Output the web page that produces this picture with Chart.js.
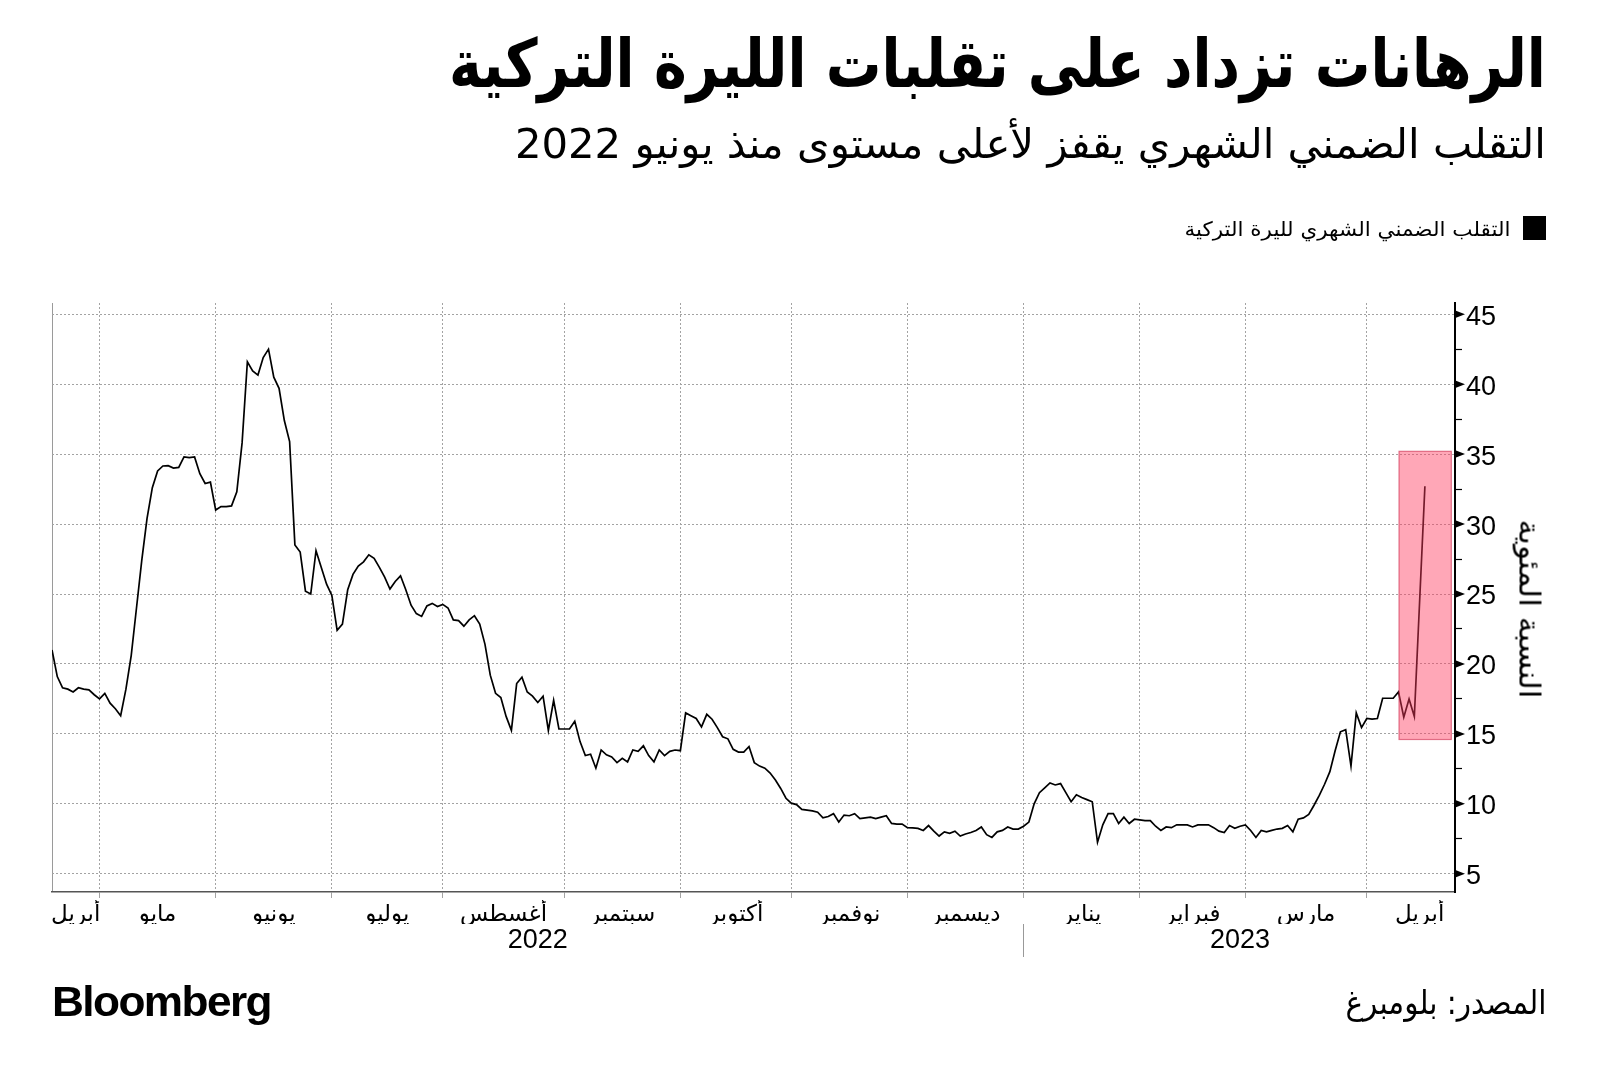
<!DOCTYPE html>
<html lang="ar">
<head>
<meta charset="utf-8">
<title>الرهانات تزداد على تقلبات الليرة التركية</title>
<script src="https://cdn.jsdelivr.net/npm/chart.js@4.4.1/dist/chart.umd.min.js"></script>
<style>
    html, body { margin: 0; padding: 0; background: #fff; }
    body { width: 1600px; height: 1085px; position: relative; overflow: hidden; }
    #chart { position: absolute; left: 0; top: 0; }
    .txt { position: absolute; white-space: nowrap; line-height: 1; color: #000; }
    .ar { direction: rtl; font-family: "DejaVu Sans", sans-serif; transform-origin: right top; }
    #title { right: 54px; top: 31px; font-size: 67px; font-weight: bold; }
    #subtitle { right: 54px; top: 124px; font-size: 41px; }
    #legendText { right: 90px; top: 219px; font-size: 20px; }
    #legendBox { position: absolute; left: 1523px; top: 216px; width: 23px; height: 24px; background: #000; }
    #source { right: 54px; top: 986px; font-size: 33px; }
    #logo { left: 52px; top: 981px; font-family: "Liberation Sans", Arial, sans-serif; font-size: 42px; font-weight: bold; letter-spacing: -1.5px; transform-origin: left top; }
    #yTitle { left: 1529px; top: 609px; font-size: 29px; transform-origin: center center; }
</style>
</head>
<body>
<canvas id="chart" width="1600" height="1085"></canvas>
<div id="title" class="txt ar">الرهانات تزداد على تقلبات الليرة التركية</div>
<div id="subtitle" class="txt ar">التقلب الضمني الشهري يقفز لأعلى مستوى منذ يونيو 2022</div>
<div id="legendBox"></div>
<div id="legendText" class="txt ar">التقلب الضمني الشهري لليرة التركية</div>
<div id="yTitle" class="txt ar">النسبة المئوية</div>
<div id="source" class="txt ar">المصدر: بلومبرغ</div>
<div id="logo" class="txt">Bloomberg</div>

<script>
// Month labels (April 2022 -> April 2023), x is the trading-day index
const monthNames = ['أبريل', 'مايو', 'يونيو', 'يوليو', 'أغسطس', 'سبتمبر', 'أكتوبر',
    'نوفمبر', 'ديسمبر', 'يناير', 'فبراير', 'مارس', 'أبريل'];
// first trading day of May 2022 ... April 2023
const monthStarts = [9, 31, 53, 74, 97, 119, 140, 162, 184, 206, 226, 249];
// where each month name sits (middle of the month)
const monthLabelPos = [4.5, 20, 42, 63.5, 85.5, 108, 129.5, 151, 173, 195, 216, 237.5, 259];

const yearNames = ['2022', '2023'];
const yearLabelPos = [92, 225];
const yearBreak = 184;

const yTicks = [5, 10, 15, 20, 25, 30, 35, 40, 45];

// One-month implied volatility of the lira, %
const volatility = [
    21.0, 19.1, 18.3, 18.2, 18.0, 18.3, 18.2, 18.15, 17.8, 17.5,
    17.9, 17.2, 16.8, 16.3, 18.2, 20.6, 24.0, 27.4, 30.4, 32.6,
    33.8, 34.15, 34.17, 34.0, 34.05, 34.8, 34.75, 34.8, 33.6, 32.9,
    33.0, 31.0, 31.25, 31.25, 31.3, 32.3, 35.8, 41.6, 40.95, 40.65,
    41.9, 42.5, 40.5, 39.7, 37.4, 35.9, 28.5, 28.0, 25.2, 25.0,
    28.1, 26.9, 25.7, 24.9, 22.4, 22.85, 25.3, 26.4, 27.0, 27.3,
    27.8, 27.55, 26.9, 26.2, 25.35, 25.9, 26.3, 25.3, 24.2, 23.6,
    23.4, 24.15, 24.33, 24.1, 24.26, 24.0, 23.15, 23.1, 22.7, 23.15,
    23.45, 22.85, 21.4, 19.2, 17.9, 17.6, 16.25, 15.25, 18.6, 19.05,
    18.0, 17.7, 17.25, 17.7, 15.25, 17.4, 15.35, 15.35, 15.35, 15.9,
    14.45, 13.45, 13.55, 12.55, 13.85, 13.5, 13.35, 12.95, 13.25, 13.0,
    13.85, 13.75, 14.15, 13.45, 13.0, 13.85, 13.45, 13.75, 13.85, 13.8,
    16.5, 16.3, 16.1, 15.5, 16.4, 16.05, 15.45, 14.8, 14.65, 13.9,
    13.7, 13.7, 14.1, 12.95, 12.7, 12.55, 12.2, 11.7, 11.1, 10.4,
    10.05, 9.95, 9.6, 9.55, 9.5, 9.4, 9.0, 9.1, 9.3, 8.7,
    9.2, 9.15, 9.3, 8.95, 9.0, 9.05, 8.95, 9.05, 9.15, 8.6,
    8.55, 8.55, 8.3, 8.28, 8.25, 8.1, 8.45, 8.05, 7.7, 8.0,
    7.9, 8.05, 7.7, 7.85, 7.95, 8.1, 8.35, 7.8, 7.6, 8.0,
    8.1, 8.35, 8.2, 8.2, 8.4, 8.7, 10.0, 10.8, 11.15, 11.5,
    11.35, 11.45, 10.8, 10.15, 10.65, 10.45, 10.3, 10.15, 7.25, 8.5,
    9.3, 9.3, 8.6, 9.05, 8.6, 8.9, 8.85, 8.8, 8.8, 8.4,
    8.1, 8.35, 8.3, 8.5, 8.5, 8.5, 8.35, 8.5, 8.5, 8.5,
    8.3, 8.05, 7.95, 8.45, 8.25, 8.4, 8.5, 8.1, 7.6, 8.1,
    8.0, 8.1, 8.2, 8.25, 8.45, 8.0, 8.9, 9.0, 9.25, 9.9,
    10.6, 11.4, 12.3, 13.8, 15.15, 15.3, 12.7, 16.5, 15.45, 16.1,
    16.05, 16.1, 17.55, 17.55, 17.55, 18.0, 16.2, 17.5, 16.25, null,
    32.7
];

// pink box around the latest jump (data coordinates)
const highlight = { from: 255.1, to: 265, low: 14.6, high: 35.2 };

const X_MAX = 265.7;
const GRID = '#a3a3a3';
const AR_FONT = '"DejaVu Sans", sans-serif';
const NUM_FONT = '"Liberation Sans", Arial, sans-serif';

// Draws the highlight box and the little arrow heads on the value axis
const chartMarks = {
    id: 'chartMarks',
    afterDatasetsDraw(chart) {
        const { ctx, scales: { x, y } } = chart;
        const left = x.getPixelForValue(highlight.from);
        const right = x.getPixelForValue(highlight.to);
        const top = y.getPixelForValue(highlight.high);
        const bottom = y.getPixelForValue(highlight.low);
        ctx.save();
        ctx.fillStyle = 'rgba(255, 60, 95, 0.45)';
        ctx.fillRect(left, top, right - left, bottom - top);
        ctx.strokeStyle = 'rgba(205, 40, 75, 0.6)';
        ctx.lineWidth = 1.2;
        ctx.strokeRect(left, top, right - left, bottom - top);
        ctx.restore();
    },
    afterDraw(chart) {
        const { ctx, scales: { y } } = chart;
        ctx.save();
        ctx.fillStyle = '#000';
        yTicks.forEach(v => {
            const py = y.getPixelForValue(v);
            ctx.beginPath();
            ctx.moveTo(y.left + 1, py - 3.5);
            ctx.lineTo(y.left + 10, py);
            ctx.lineTo(y.left + 1, py + 3.5);
            ctx.closePath();
            ctx.fill();
        });
        ctx.restore();
    }
};

const isMajor = c => c.tick && yTicks.includes(c.tick.value);

new Chart(document.getElementById('chart'), {
    type: 'line',
    data: {
        datasets: [{
            label: 'التقلب الضمني الشهري لليرة التركية',
            data: volatility.map((v, i) => ({ x: i, y: v })),
            borderColor: '#000',
            borderWidth: 1.7,
            pointRadius: 0,
            tension: 0,
            spanGaps: true
        }]
    },
    options: {
        responsive: false,
        animation: false,
        devicePixelRatio: 1,
        events: [],
        layout: { padding: { top: 303, left: 52, right: 0, bottom: 121 } },
        plugins: {
            legend: { display: false },
            tooltip: { enabled: false }
        },
        scales: {
            // month boundaries: grid lines + small ticks
            x: {
                type: 'linear', position: 'bottom', weight: 0,
                min: 0, max: X_MAX,
                afterBuildTicks: s => { s.ticks = [0, ...monthStarts].map(v => ({ value: v })); },
                afterFit: s => { s.height = 8; },
                ticks: { display: false },
                grid: {
                    color: c => c.tick && c.tick.value === 0 ? '#9a9a9a' : GRID,
                    lineWidth: 1,
                    drawTicks: true,
                    tickLength: 6,
                    tickColor: c => c.tick && c.tick.value === 0 ? 'rgba(0,0,0,0)' : GRID,
                    tickWidth: 1
                },
                border: {
                    color: '#555',
                    width: 1.6,
                    dash: c => (c.tick && c.tick.value !== 0) ? [2, 2] : []
                }
            },
            // month names
            xm: {
                type: 'linear', position: 'bottom', weight: 1,
                min: 0, max: X_MAX,
                afterBuildTicks: s => { s.ticks = monthLabelPos.map(v => ({ value: v })); },
                afterFit: s => { s.height = 24; },
                grid: { display: false, drawTicks: false },
                border: { display: false },
                ticks: {
                    autoSkip: false, maxRotation: 0, padding: 1, color: '#000',
                    font: { family: AR_FONT, size: 23 },
                    callback: (v, i) => monthNames[i]
                }
            },
            // years + separator
            xy: {
                type: 'linear', position: 'bottom', weight: 2,
                min: 0, max: X_MAX,
                afterBuildTicks: s => { s.ticks = [yearLabelPos[0], yearBreak, yearLabelPos[1]].map(v => ({ value: v })); },
                afterFit: s => { s.height = 40; },
                grid: {
                    drawOnChartArea: false,
                    drawTicks: true,
                    tickLength: 33,
                    color: 'rgba(0,0,0,0)',
                    tickColor: c => c.tick && c.tick.value === yearBreak ? '#999' : 'rgba(0,0,0,0)',
                    tickWidth: 1
                },
                border: { display: false },
                ticks: {
                    autoSkip: false, maxRotation: 0, padding: -33, color: '#000',
                    font: { family: NUM_FONT, size: 27 },
                    callback: v => {
                        const k = yearLabelPos.indexOf(v);
                        return k >= 0 ? yearNames[k] : '';
                    }
                }
            },
            y: {
                position: 'right',
                min: 3.7, max: 45.8,
                afterBuildTicks: s => {
                    const t = [];
                    yTicks.forEach((v, i) => {
                        t.push({ value: v });
                        if (i < yTicks.length - 1) t.push({ value: v + 2.5 });
                    });
                    s.ticks = t;
                },
                afterFit: s => { s.width = 145; },
                ticks: {
                    padding: 4, labelOffset: 3, color: '#000',
                    font: { family: NUM_FONT, size: 27 },
                    callback: v => yTicks.includes(v) ? String(v) : ''
                },
                grid: {
                    color: c => isMajor(c) ? GRID : 'rgba(0,0,0,0)',
                    lineWidth: 1,
                    drawTicks: true,
                    tickLength: 7,
                    tickColor: c => isMajor(c) ? 'rgba(0,0,0,0)' : '#000',
                    tickWidth: 1.2
                },
                border: {
                    color: '#000',
                    width: 2,
                    dash: c => c.tick ? [2, 2] : []
                }
            }
        }
    },
    plugins: [chartMarks]
});

// Squeeze/stretch the heading texts to the widths they take in the original
function fitWidth(id, target) {
    const el = document.getElementById(id);
    const w = el.getBoundingClientRect().width;
    el.style.transform = `scaleX(${target / w})`;
}
fitWidth('title', 1097);
fitWidth('subtitle', 1031);
fitWidth('legendText', 326);
fitWidth('source', 201);
fitWidth('logo', 219);

// value axis title, turned to read downwards and centred at its spot
const yTitle = document.getElementById('yTitle');
const yw = yTitle.getBoundingClientRect().width;
yTitle.style.transform = `translate(-50%, -50%) rotate(90deg) scaleX(${179 / yw})`;
</script>
</body>
</html>
